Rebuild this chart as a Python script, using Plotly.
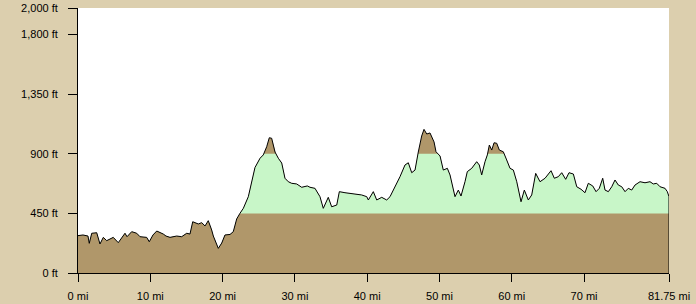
import numpy as np
import plotly.graph_objects as go

# Distance along route (miles) and elevation (feet), read from the profile
miles = [0.00, 0.69, 1.38, 1.56, 1.90, 2.59, 3.04, 3.50, 3.97, 4.43, 4.88, 5.57, 6.09, 6.50, 6.78,
         7.43, 8.12, 8.58, 9.50, 9.86, 10.37, 10.89, 11.80, 12.17, 12.73, 13.65, 14.34, 15.04, 15.49,
         15.87, 16.64, 17.11, 17.57, 18.02, 18.49, 18.72, 19.41, 19.88, 20.33, 21.03, 21.48, 21.95,
         22.41, 22.87, 23.56, 24.03, 24.48, 25.18, 25.63, 26.10, 26.46, 26.79, 27.25, 27.71, 28.18,
         28.63, 29.09, 29.56, 30.25, 30.94, 31.72, 32.09, 32.78, 33.47, 33.93, 34.62, 35.09, 35.79,
         36.15, 36.93, 38.55, 39.24, 39.94, 40.16, 40.85, 41.32, 42.01, 42.70, 43.16, 44.09, 44.54,
         45.23, 45.69, 46.16, 46.62, 47.07, 47.54, 47.86, 48.24, 48.69, 49.25, 49.52, 50.08, 50.53,
         51.09, 51.46, 51.92, 52.15, 52.61, 52.98, 53.53, 53.85, 54.46, 55.15, 55.51, 55.84, 56.30,
         56.62, 56.90, 57.23, 57.55, 57.92, 58.28, 58.83, 59.30, 59.76, 60.22, 60.69, 61.28, 61.74,
         62.29, 62.76, 63.31, 63.91, 64.60, 65.06, 65.43, 65.89, 66.44, 66.91, 67.46, 67.92, 68.52,
         68.99, 69.58, 70.13, 70.59, 71.20, 71.66, 72.11, 72.58, 72.90, 73.36, 73.83, 74.28, 74.74,
         75.21, 75.67, 76.12, 76.59, 77.05, 77.74, 78.43, 79.12, 79.58, 80.05, 80.51, 81.20, 81.52,
         81.75]
elevation_ft = [282, 287, 279, 224, 300, 304, 219, 269, 244, 257, 269, 229, 264, 300, 274,
                312, 300, 274, 269, 236, 287, 317, 294, 279, 269, 279, 274, 300, 294,
                387, 370, 380, 355, 395, 325, 279, 186, 226, 287, 291, 312, 408,
                451, 488, 576, 702, 796, 866, 891, 953, 1021, 1017, 913, 866, 830,
                715, 689, 677, 672, 647, 657, 647, 639, 576, 488, 571, 500, 513,
                614, 606, 596, 589, 576, 551, 614, 551, 571, 551, 576, 677, 727,
                815, 832, 757, 777, 913, 1034, 1084, 1049, 1057, 989, 915, 883, 777,
                790, 740, 626, 576, 626, 581, 689, 765, 790, 840, 815, 740, 840,
                891, 966, 928, 983, 979, 928, 915, 853, 790, 777, 689, 538, 626,
                551, 589, 752, 689, 715, 752, 772, 715, 727, 757, 707, 757, 747,
                651, 632, 606, 677, 657, 614, 639, 715, 626, 614, 651, 702, 664,
                651, 614, 639, 626, 664, 689, 681, 689, 672, 677, 651, 639, 614,
                576]

band_levels = [450, 900]
y_tick_vals = [0, 450, 900, 1350, 1800, 2000]
y_tick_text = ["0 ft", "450 ft", "900 ft", "1,350 ft", "1,800 ft", "2,000 ft"]
x_tick_vals = [0, 10, 20, 30, 40, 50, 60, 70, 81.75]
x_tick_text = ["0 mi", "10 mi", "20 mi", "30 mi", "40 mi", "50 mi", "60 mi", "70 mi", "81.75 mi"]

BG = "#DCCFAE"
BROWN = "#B0976A"
GREEN = "#C8F6C8"


def with_crossings(x, y, levels):
    """Insert points where the profile crosses the band levels so clipping is exact."""
    xs, ys = [x[0]], [y[0]]
    for i in range(1, len(x)):
        x0, y0, x1, y1 = x[i - 1], y[i - 1], x[i], y[i]
        cross = []
        for lv in levels:
            if (y0 - lv) * (y1 - lv) < 0:
                t = (lv - y0) / (y1 - y0)
                cross.append((x0 + t * (x1 - x0), lv))
        cross.sort()
        for cx, cy in cross:
            xs.append(cx)
            ys.append(cy)
        xs.append(x1)
        ys.append(y1)
    return np.array(xs), np.array(ys)


xd, yd = with_crossings(miles, elevation_ft, band_levels)

fig = go.Figure()
fig.add_trace(go.Scatter(x=xd, y=yd, mode="lines", fill="tozeroy",
                         fillcolor=BROWN, line=dict(width=0), hoverinfo="skip"))
fig.add_trace(go.Scatter(x=xd, y=np.minimum(yd, band_levels[1]), mode="lines", fill="tozeroy",
                         fillcolor=GREEN, line=dict(width=0), hoverinfo="skip"))
fig.add_trace(go.Scatter(x=xd, y=np.minimum(yd, band_levels[0]), mode="lines", fill="tozeroy",
                         fillcolor=BROWN, line=dict(width=0), hoverinfo="skip"))
fig.add_trace(go.Scatter(x=miles, y=elevation_ft, mode="lines",
                         line=dict(color="black", width=1), hoverinfo="skip"))
# closing edge at the route end
fig.add_trace(go.Scatter(x=[miles[-1], miles[-1]], y=[0, elevation_ft[-1]], mode="lines",
                         line=dict(color="black", width=1), hoverinfo="skip"))

fig.update_layout(
    width=696, height=304,
    margin=dict(l=78, r=27, t=8, b=31, autoexpand=False),
    paper_bgcolor=BG, plot_bgcolor="white",
    showlegend=False,
    font=dict(family="Liberation Sans, Arial, sans-serif", size=11, color="black"),
)
fig.update_xaxes(range=[0, 81.75], tickvals=x_tick_vals, ticktext=x_tick_text,
                 showgrid=False, zeroline=False, showline=True, linecolor="black", linewidth=1,
                 ticks="outside", ticklen=8, tickcolor="black", tickwidth=1,
                 ticklabelstandoff=5, automargin=False)
fig.update_yaxes(range=[0, 2000], tickvals=y_tick_vals, ticktext=y_tick_text,
                 showgrid=False, zeroline=False, showline=True, linecolor="black", linewidth=1,
                 ticks="outside", ticklen=9, tickcolor="black", tickwidth=1,
                 ticklabelstandoff=8, automargin=False)

fig.write_html("out.html")
